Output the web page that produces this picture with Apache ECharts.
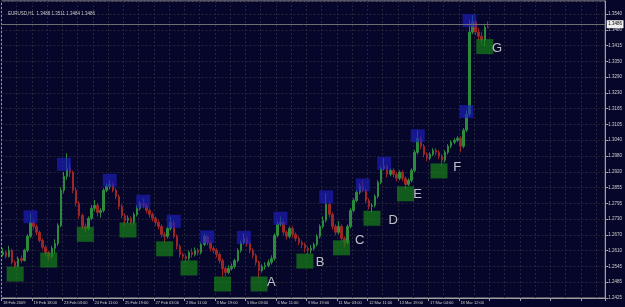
<!DOCTYPE html>
<html><head><meta charset="utf-8">
<script src="https://cdn.jsdelivr.net/npm/echarts@6/dist/echarts.min.js"></script>
<style>html,body{margin:0;padding:0;background:#06062a;overflow:hidden}#c{width:625px;height:307px}</style>
</head><body><div id="c"></div>
<script>
const titleText = 'EURUSD,H1  1.3488 1.3511 1.3484 1.3486';
const timeLabels = ['18 Feb 2009','19 Feb 18:00','23 Feb 03:00','24 Feb 11:00','25 Feb 19:00','27 Feb 03:00','2 Mar 11:00','3 Mar 19:00','5 Mar 03:00','6 Mar 11:00','9 Mar 19:00','11 Mar 03:00','12 Mar 11:00','13 Mar 19:00','17 Mar 04:00','18 Mar 12:00'];
const priceLabels = ['1.2425','1.2485','1.2545','1.2610','1.2670','1.2730','1.2795','1.2855','1.2920','1.2980','1.3040','1.3105','1.3165','1.3230','1.3290','1.3350','1.3415','1.3480','1.3540'];
const lastPrice = 1.3486;

const opens = [1.2596,1.2604,1.2588,1.2612,1.2565,1.2549,1.2580,1.2572,1.2612,1.2667,
1.2722,1.2706,1.2683,1.2651,1.2624,1.2604,1.2588,1.2620,1.2639,1.2710,
1.2848,1.2903,1.2934,1.2919,1.2848,1.2797,1.2749,1.2706,1.2698,1.2738,
1.2777,1.2789,1.2761,1.2769,1.2848,1.2864,1.2871,1.2848,1.2824,1.2785,
1.2749,1.2730,1.2738,1.2722,1.2753,1.2777,1.2797,1.2789,1.2769,1.2753,
1.2738,1.2722,1.2706,1.2675,1.2667,1.2698,1.2722,1.2667,1.2628,1.2596,
1.2588,1.2580,1.2604,1.2596,1.2612,1.2604,1.2635,1.2667,1.2643,1.2620,
1.2612,1.2596,1.2572,1.2541,1.2525,1.2541,1.2549,1.2572,1.2612,1.2643,
1.2659,1.2639,1.2612,1.2592,1.2565,1.2533,1.2549,1.2553,1.2565,1.2580,
1.2671,1.2714,1.2722,1.2683,1.2667,1.2698,1.2675,1.2659,1.2643,1.2635,
1.2620,1.2612,1.2620,1.2635,1.2667,1.2706,1.2730,1.2793,1.2753,1.2706,
1.2683,1.2706,1.2659,1.2643,1.2706,1.2769,1.2808,1.2840,1.2864,1.2848,
1.2808,1.2785,1.2789,1.2824,1.2879,1.2934,1.2942,1.2911,1.2926,1.2911,
1.2895,1.2919,1.2895,1.2871,1.2887,1.2926,1.2997,1.3052,1.3021,1.2989,
1.2974,1.2989,1.3005,1.2997,1.2982,1.2966,1.2997,1.3021,1.3037,1.3044,
1.3052,1.3021,1.3084,1.3147,1.3469,1.3509,1.3469,1.3453,1.3438,1.3488];
const closes = [1.2604,1.2588,1.2612,1.2565,1.2549,1.2580,1.2572,1.2612,1.2667,1.2722,
1.2706,1.2683,1.2651,1.2624,1.2604,1.2588,1.2620,1.2639,1.2710,1.2848,
1.2903,1.2934,1.2919,1.2848,1.2797,1.2749,1.2706,1.2698,1.2738,1.2777,
1.2789,1.2761,1.2769,1.2848,1.2864,1.2871,1.2848,1.2824,1.2785,1.2749,
1.2730,1.2738,1.2722,1.2753,1.2777,1.2797,1.2789,1.2769,1.2753,1.2738,
1.2722,1.2706,1.2675,1.2667,1.2698,1.2722,1.2667,1.2628,1.2596,1.2588,
1.2580,1.2604,1.2596,1.2612,1.2604,1.2635,1.2667,1.2643,1.2620,1.2612,
1.2596,1.2572,1.2541,1.2525,1.2541,1.2549,1.2572,1.2612,1.2643,1.2659,
1.2639,1.2612,1.2592,1.2565,1.2533,1.2549,1.2553,1.2565,1.2580,1.2671,
1.2714,1.2722,1.2683,1.2667,1.2698,1.2675,1.2659,1.2643,1.2635,1.2620,
1.2612,1.2620,1.2635,1.2667,1.2706,1.2730,1.2793,1.2753,1.2706,1.2683,
1.2706,1.2659,1.2643,1.2706,1.2769,1.2808,1.2840,1.2864,1.2848,1.2808,
1.2785,1.2789,1.2824,1.2879,1.2934,1.2942,1.2911,1.2926,1.2911,1.2895,
1.2919,1.2895,1.2871,1.2887,1.2926,1.2997,1.3052,1.3021,1.2989,1.2974,
1.2989,1.3005,1.2997,1.2982,1.2966,1.2997,1.3021,1.3037,1.3044,1.3052,
1.3021,1.3084,1.3147,1.3469,1.3509,1.3469,1.3453,1.3438,1.3488,1.3486];
const lows = [1.2588,1.2580,1.2584,1.2557,1.2541,1.2545,1.2562,1.2568,1.2605,1.2660,
1.2694,1.2672,1.2643,1.2616,1.2592,1.2572,1.2580,1.2600,1.2630,1.2702,
1.2836,1.2890,1.2900,1.2836,1.2785,1.2738,1.2694,1.2683,1.2690,1.2730,
1.2765,1.2745,1.2740,1.2761,1.2840,1.2852,1.2840,1.2813,1.2773,1.2738,
1.2710,1.2718,1.2710,1.2714,1.2745,1.2769,1.2777,1.2757,1.2741,1.2726,
1.2710,1.2694,1.2663,1.2643,1.2659,1.2690,1.2659,1.2616,1.2584,1.2576,
1.2565,1.2572,1.2584,1.2588,1.2592,1.2596,1.2628,1.2632,1.2608,1.2600,
1.2584,1.2561,1.2506,1.2510,1.2518,1.2533,1.2541,1.2565,1.2604,1.2635,
1.2628,1.2600,1.2580,1.2553,1.2502,1.2525,1.2537,1.2545,1.2557,1.2572,
1.2663,1.2706,1.2671,1.2655,1.2659,1.2663,1.2647,1.2632,1.2620,1.2604,
1.2596,1.2600,1.2612,1.2628,1.2659,1.2698,1.2722,1.2741,1.2694,1.2671,
1.2675,1.2647,1.2624,1.2635,1.2698,1.2761,1.2800,1.2832,1.2840,1.2797,
1.2773,1.2761,1.2781,1.2816,1.2871,1.2926,1.2899,1.2903,1.2899,1.2883,
1.2887,1.2883,1.2852,1.2864,1.2879,1.2919,1.2989,1.3009,1.2978,1.2962,
1.2966,1.2982,1.2985,1.2970,1.2942,1.2958,1.2989,1.3013,1.3029,1.3037,
1.2997,1.3013,1.3076,1.3139,1.3461,1.3457,1.3438,1.3420,1.3412,1.3484];
const highs = [1.2620,1.2612,1.2630,1.2618,1.2572,1.2588,1.2592,1.2618,1.2675,1.2757,
1.2736,1.2714,1.2690,1.2659,1.2632,1.2610,1.2630,1.2655,1.2718,1.2860,
1.2920,1.2993,1.2955,1.2925,1.2860,1.2805,1.2757,1.2718,1.2745,1.2790,
1.2810,1.2797,1.2777,1.2856,1.2875,1.2887,1.2879,1.2856,1.2832,1.2793,
1.2757,1.2749,1.2745,1.2761,1.2789,1.2805,1.2816,1.2797,1.2777,1.2761,
1.2745,1.2730,1.2714,1.2683,1.2706,1.2745,1.2730,1.2675,1.2635,1.2604,
1.2596,1.2612,1.2620,1.2624,1.2620,1.2643,1.2679,1.2671,1.2651,1.2628,
1.2620,1.2604,1.2580,1.2549,1.2553,1.2561,1.2580,1.2620,1.2651,1.2679,
1.2667,1.2647,1.2620,1.2600,1.2572,1.2557,1.2565,1.2576,1.2592,1.2679,
1.2726,1.2745,1.2730,1.2690,1.2706,1.2706,1.2683,1.2667,1.2651,1.2643,
1.2628,1.2632,1.2643,1.2675,1.2714,1.2745,1.2836,1.2801,1.2761,1.2714,
1.2726,1.2714,1.2667,1.2714,1.2777,1.2816,1.2848,1.2875,1.2887,1.2856,
1.2816,1.2797,1.2832,1.2887,1.2942,1.2974,1.2950,1.2934,1.2934,1.2919,
1.2926,1.2926,1.2903,1.2895,1.2934,1.3005,1.3084,1.3060,1.3029,1.2997,
1.2997,1.3013,1.3013,1.3005,1.2989,1.3005,1.3029,1.3044,1.3052,1.3060,
1.3060,1.3092,1.3162,1.3516,1.3536,1.3516,1.3485,1.3469,1.3496,1.3511];

const highMarkIdx = [9,20,35,46,56,67,79,91,106,118,125,136,152,153];
const highMarkVal = [1.2744,1.2950,1.2887,1.2805,1.2726,1.2665,1.2663,1.2738,1.2822,1.2869,1.2954,1.3062,1.3157,1.3514];
const lowMarkIdx = [4,15,27,41,53,61,72,84,99,111,121,132,143,158];
const lowMarkVal = [1.2519,1.2574,1.2675,1.2692,1.2618,1.2543,1.2480,1.2480,1.2570,1.2622,1.2738,1.2834,1.2924,1.3412];
const letters = ['A','B','C','D','E','F','G'];
const letterIdx = [88,104,117,128,136,149,162];
const letterVal = [1.2486,1.2565,1.2651,1.2730,1.2832,1.2938,1.3406];

const N_CAT = 198;
const categories = [];
for (let i = 0; i < N_CAT; i++) {
  categories.push(i % 10 === 0 && timeLabels[i / 10] ? timeLabels[i / 10] : '');
}
const candles = opens.map((o, i) => [o, closes[i], lows[i], highs[i]]);
const yMin = 1.2425;
const yStep = (1.3540 - 1.2425) / 18;
const yMax = 1.35911;
const FONT = '"Liberation Sans", Arial, sans-serif';
const UP = '#2c8a3c', DOWN = '#9c2626';
const GRIDC = '#25253a', AXC = '#a0a0a0';

const chart = echarts.init(document.getElementById('c'), null, {renderer: 'canvas'});
chart.setOption({
  animation: false,
  backgroundColor: '#06062a',
  title: {text: titleText, left: 3, top: 6, textStyle: {color: '#c8c8c8', fontSize: 4.5, fontWeight: 'normal', fontFamily: FONT}},
  grid: {left: 1, right: 19, top: 1, bottom: 9, show: true, borderColor: AXC, borderWidth: 1},
  xAxis: {
    type: 'category', data: categories, boundaryGap: true,
    axisLine: {show: true, lineStyle: {color: AXC}},
    axisTick: {show: true, interval: 9, length: 3, lineStyle: {color: AXC}},
    axisLabel: {interval: 9, align: 'left', fontSize: 4, color: '#d0d0d0', margin: 2.5, fontFamily: FONT},
    splitLine: {show: true, interval: 4, lineStyle: {color: GRIDC, type: [2, 2], width: 1}}
  },
  yAxis: {
    type: 'value', position: 'right', min: yMin, max: yMax, interval: yStep, scale: true,
    axisLine: {show: true, lineStyle: {color: AXC}},
    axisTick: {show: true, length: 3, lineStyle: {color: AXC}},
    axisLabel: {
      fontSize: 4.5, color: '#d0d0d0', margin: 3, fontFamily: FONT, showMaxLabel: false,
      formatter: function (v) {
        const k = Math.round((v - yMin) / yStep);
        if (Math.abs(yMin + k * yStep - v) > 1e-7) return '';
        return priceLabels[k] || '';
      }
    },
    splitLine: {show: true, lineStyle: {color: GRIDC, type: [2, 2], width: 1}}
  },
  series: [
    {
      type: 'candlestick', data: candles, barWidth: 2,
      itemStyle: {color: UP, color0: DOWN, borderColor: UP, borderColor0: DOWN, borderWidth: 1},
      markLine: {
        silent: true, symbol: 'none', animation: false,
        data: [{yAxis: lastPrice}],
        lineStyle: {color: '#6e6e6e', type: 'solid', width: 1},
        label: {show: true, position: 'end', formatter: lastPrice.toFixed(4), backgroundColor: '#eeeeee', color: '#000', fontSize: 4.5, padding: [1.5, 1.5], distance: 1.5, fontFamily: FONT}
      }
    },
    {
      type: 'scatter', symbol: 'rect', symbolSize: [14, 13], z: 4,
      data: highMarkIdx.map((x, i) => [x, highMarkVal[i]]),
      itemStyle: {color: 'rgba(30,30,196,0.8)'}
    },
    {
      type: 'scatter', symbol: 'rect', symbolSize: [17, 15], z: 4,
      data: lowMarkIdx.map((x, i) => [x, lowMarkVal[i]]),
      itemStyle: {color: 'rgba(24,132,24,0.85)'}
    },
    {
      type: 'scatter', symbolSize: 1, z: 5,
      data: letterIdx.map((x, i) => [x, letterVal[i]]),
      itemStyle: {color: 'transparent'},
      label: {show: true, position: 'inside', formatter: p => letters[p.dataIndex], fontSize: 13, color: '#eeeeee', fontFamily: FONT}
    }
  ]
});
</script>
</body></html>
